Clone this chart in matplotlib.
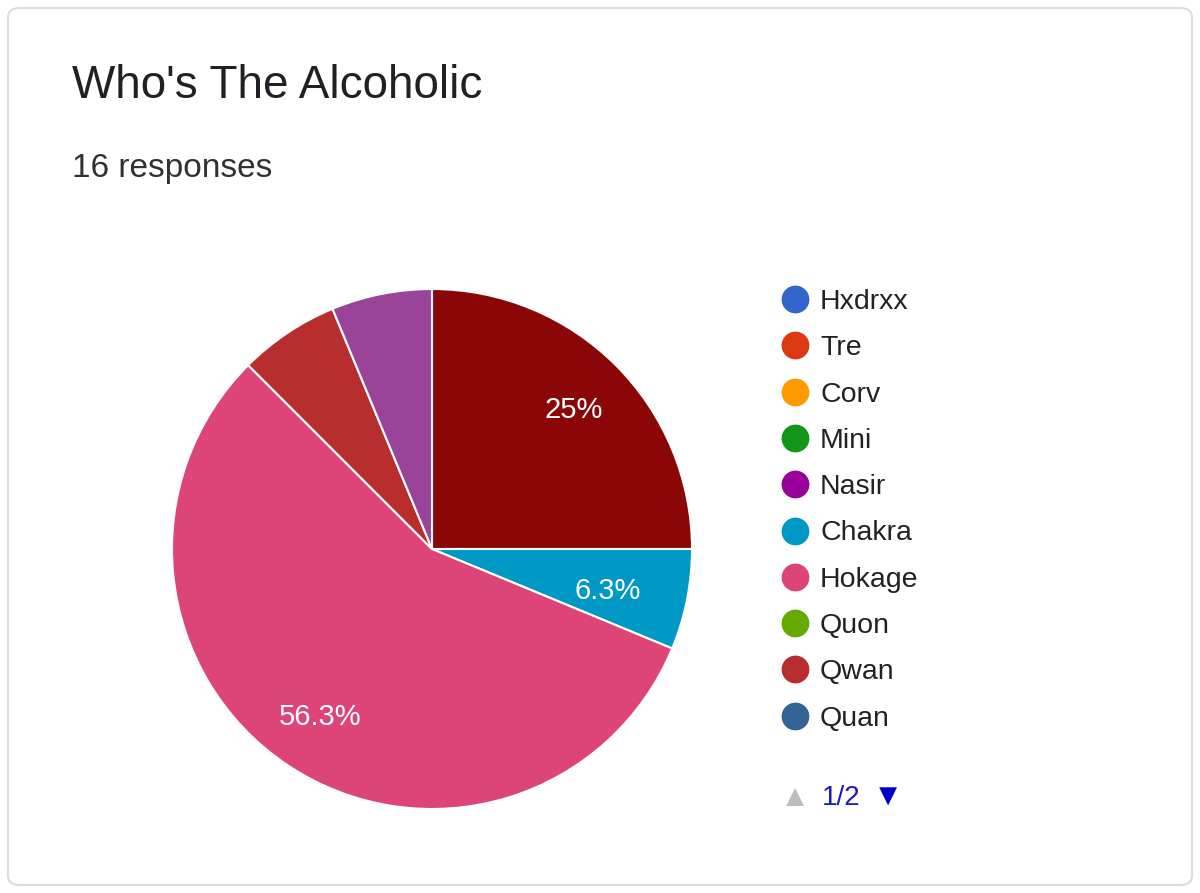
import matplotlib.pyplot as plt
from matplotlib.patches import FancyBboxPatch
from decimal import Decimal, ROUND_HALF_UP

title = "Who's The Alcoholic"
subtitle = "16 responses"

# slices clockwise from 12 o'clock
slice_names = ["Page2", "Chakra", "Hokage", "Qwan", "Nasir"]
slice_counts = [4, 1, 9, 1, 1]
slice_colors = ["#8b0707", "#0099c6", "#dd4477", "#b82e2e", "#994499"]
show_label = [True, True, True, False, False]

legend_names = ["Hxdrxx", "Tre", "Corv", "Mini", "Nasir", "Chakra", "Hokage", "Quon", "Qwan", "Quan"]
legend_colors = ["#3366cc", "#dc3912", "#ff9900", "#109618", "#990099",
                 "#0099c6", "#dd4477", "#66aa00", "#b82e2e", "#316395"]

plt.rcParams['font.family'] = ['Liberation Sans', 'DejaVu Sans']
W, H = 1200, 893
fig = plt.figure(figsize=(12, 8.93), dpi=100)
fig.patch.set_facecolor('white')

card = FancyBboxPatch((8 / W, 8 / H), 1 - 16 / W, 1 - 16 / H,
                      boxstyle="round,pad=0,rounding_size=0.01",
                      transform=fig.transFigure, fill=False,
                      edgecolor='#dadce0', linewidth=1.5)
fig.patches.append(card)

fig.text(72 / W, 1 - 86 / H, title, fontsize=33, color='#202124', va='center')
fig.text(72 / W, 1 - 168 / H, subtitle, fontsize=24, color='#303134', va='center')

cx, cy, r = 432, 549, 260
ax = fig.add_axes([(cx - r) / W, 1 - (cy + r) / H, 2 * r / W, 2 * r / H])
total = sum(slice_counts)


def fmt_pct(c):
    v = Decimal(100 * c / total).quantize(Decimal('0.1'), rounding=ROUND_HALF_UP)
    s = f"{v}%"
    return s.replace(".0%", "%")


wedges, texts = ax.pie(slice_counts, colors=slice_colors, startangle=90,
                       counterclock=False, radius=1,
                       wedgeprops=dict(edgecolor='white', linewidth=1.5))
label_pos = {0: (0.545, 0.535), 1: (0.675, -0.16), 2: (-0.43, -0.645)}
for i, c in enumerate(slice_counts):
    if show_label[i]:
        x, y = label_pos[i]
        ax.text(x, y, fmt_pct(c), color='white', fontsize=21, ha='center', va='center')
ax.set_xlim(-1, 1)
ax.set_ylim(-1, 1)
ax.set_aspect('equal')
ax.axis('off')

for i, (n, c) in enumerate(zip(legend_names, legend_colors)):
    y = 1 - (302 + i * 46.3) / H
    fig.add_artist(plt.Line2D([795 / W], [y + 3 / H], marker='o', markersize=19,
                              color=c, transform=fig.transFigure))
    fig.text(820 / W, y, n, color='#222222', fontsize=20.5, va='center')

y = 1 - 798 / H
fig.text(795 / W, y, "\u25b2", color='#bdbdbd', fontsize=22, ha='center', va='center')
fig.text(822 / W, y, "1/2", color='#1a1ac0', fontsize=20, va='center')
fig.text(888 / W, y, "\u25bc", color='#0000cc', fontsize=22, ha='center', va='center')

fig.savefig('out.png', dpi=100)
